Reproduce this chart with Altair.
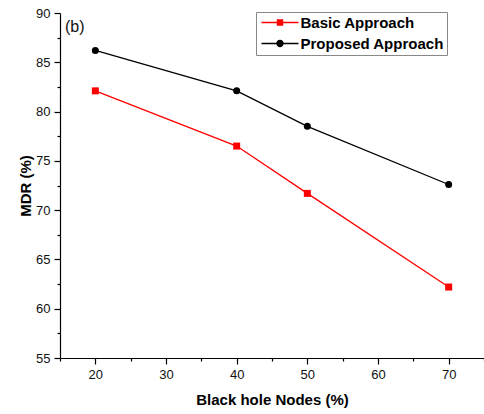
import altair as alt
import pandas as pd

# Black hole node share (%) on the x axis
nodes = [20, 40, 50, 70]
# Malicious detection rate (%) for each approach
basic = [82.1, 76.5, 71.7, 62.2]
proposed = [86.2, 82.1, 78.5, 72.6]

series_names = ["Basic Approach", "Proposed Approach"]
series_colors = ["#ff0000", "#000000"]
series_shapes = ["square", "circle"]

x_ticks = [15, 20, 25, 30, 35, 40, 45, 50, 55, 60, 65, 70, 75]
y_ticks = [55, 57.5, 60, 62.5, 65, 67.5, 70, 72.5, 75, 77.5, 80, 82.5, 85, 87.5, 90]

panel_tag = ["(b)"]

df = pd.DataFrame({
    "nodes": nodes * 2,
    "mdr": basic + proposed,
    "series": [series_names[0]] * len(nodes) + [series_names[1]] * len(nodes),
})

FONT = "Liberation Sans"

# legend glyphs: a short line segment with the series marker in its middle
LINE_PART = "M-3.7,-0.13H3.7V0.13H-3.7Z"
SQUARE_GLYPH = LINE_PART + " M-0.64,-0.64H0.64V0.64H-0.64Z"
CIRCLE_GLYPH = LINE_PART + " M-0.74,0A0.74,0.74 0 1,1 0.74,0A0.74,0.74 0 1,1 -0.74,0Z"
GLYPH_EXPR = f"datum.value === '{series_names[0]}' ? '{SQUARE_GLYPH}' : '{CIRCLE_GLYPH}'"

legend = alt.Legend(
    title=None,
    orient="none",
    legendX=196,
    legendY=-1,
    direction="vertical",
    padding=3,
    strokeColor="#888888",
    fillColor="#ffffff",
    labelFont=FONT,
    labelFontSize=15,
    labelFontWeight="bold",
    labelColor="#000000",
    labelLimit=300,
    labelOffset=13,
    symbolOffset=13.5,
    symbolSize=100,
    symbolType={"expr": GLYPH_EXPR},
    symbolStrokeWidth=0,
    symbolOpacity=1,
    rowPadding=5,
)

x_enc = alt.X(
    "nodes:Q",
    scale=alt.Scale(domain=[15, 75], nice=False, zero=False),
    axis=alt.Axis(
        title="Black hole Nodes (%)",
        values=x_ticks,
        format="d",
        labelExpr="datum.value % 10 === 0 ? datum.label : ''",
        tickSize={"condition": {"test": "datum.value % 10 === 0", "value": 6}, "value": 3},
        labelPadding=4,
        titlePadding=11,
        labelOverlap=False,
    ),
)
y_enc = alt.Y(
    "mdr:Q",
    scale=alt.Scale(domain=[55, 90], nice=False, zero=False),
    axis=alt.Axis(
        title="MDR (%)",
        values=y_ticks,
        format="d",
        labelExpr="datum.value % 5 === 0 ? datum.label : ''",
        tickSize={"condition": {"test": "datum.value % 5 === 0", "value": 6}, "value": 3},
        labelPadding=4,
        titlePadding=2,
        labelOverlap=False,
    ),
)
color_enc = alt.Color("series:N", scale=alt.Scale(domain=series_names, range=series_colors), legend=legend)

base = alt.Chart(df)

# one marker layer per series, each with its own symbol shape
marker_layers = [
    base.transform_filter(alt.datum.series == name)
    .mark_point(filled=True, size=49, opacity=1, shape=shape)
    .encode(x=x_enc, y=y_enc, color=color_enc)
    for name, shape in zip(series_names, series_shapes)
]

lines = base.mark_line(strokeWidth=1.3).encode(x=x_enc, y=y_enc, color=color_enc)

# panel tag in the upper-left corner of the plot area
tag = alt.Chart(pd.DataFrame({"tag": panel_tag})).mark_text(
    font=FONT, fontSize=16, color="#111111", align="left", baseline="middle"
).encode(x=alt.value(5), y=alt.value(14), text="tag:N")

chart = (
    alt.layer(*marker_layers, lines, tag)
    .properties(
        width=424,
        height=345,
        padding={"left": 60, "top": 13, "right": 0, "bottom": 56},
        autosize=alt.AutoSizeParams(type="none"),
        background="#ffffff",
    )
    .configure_view(stroke=None)
    .configure_axis(
        grid=False,
        domainColor="#000000",
        domainWidth=1.2,
        tickColor="#000000",
        tickWidth=1.2,
        labelFont=FONT,
        labelFontSize=13,
        labelColor="#111111",
        titleFont=FONT,
        titleFontSize=15,
        titleFontWeight="bold",
        titleColor="#000000",
    )
)

chart.save("out.html", embed_options={"renderer": "svg", "actions": False})
